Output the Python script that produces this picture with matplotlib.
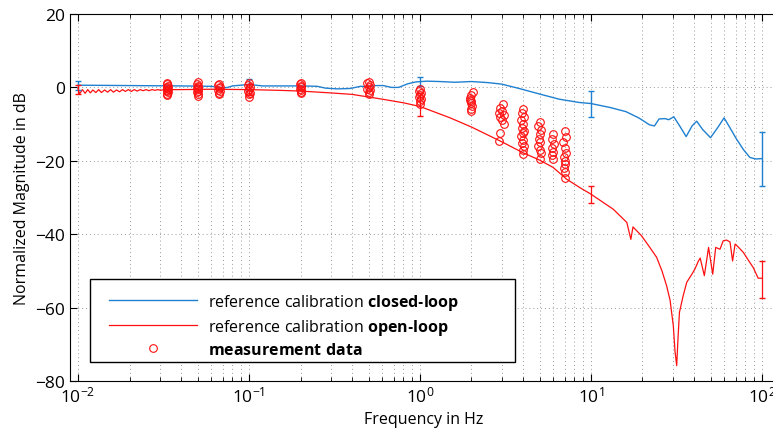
import numpy as np
import matplotlib
matplotlib.use("Agg")
import matplotlib.pyplot as plt
from matplotlib.patches import Rectangle

# reference calibration, closed loop
cl_freq = [0.01, 0.02, 0.04, 0.06, 0.07, 0.075, 0.08, 0.1, 0.12, 0.2, 0.25, 0.28, 0.33,
           0.39, 0.45, 0.5, 0.55, 0.61, 0.68, 0.75, 0.85, 0.95, 1.1, 1.3, 1.6, 2.0, 2.5,
           3.0, 3.8, 5.0, 6.5, 8.5, 10, 13, 16, 19, 22, 23.5, 25, 27, 28.5, 30.5, 33, 36,
           39, 41.5, 45, 50, 55, 60, 64, 71, 78, 85, 92, 100]
cl_db = [0.6, 0.5, 0.4, 0.3, -0.1, 0.0, 0.4, 0.8, 0.4, 0.4, 0.3, -0.2, -0.4,
         -0.3, 0.3, 0.2, 0.5, 0.5, 0.0, 0.0, 1.0, 1.5, 1.7, 1.6, 1.4, 1.6, 1.3,
         0.9, -0.3, -1.8, -3.2, -4.1, -4.4, -5.5, -6.6, -8.3, -10.2, -10.5, -8.6, -8.5, -8.8, -8.0, -10.5, -13.4,
         -10.5, -9.2, -11.5, -13.7, -11.0, -8.3, -10.5, -14.1, -17.0, -19.1, -19.5, -19.4]

# reference calibration, open loop
ol_freq = [0.01, 0.0102, 0.0106, 0.011, 0.0114, 0.0118, 0.0122, 0.0127, 0.0132, 0.0137,
           0.0143, 0.0149, 0.0155, 0.0161, 0.0168, 0.0175, 0.0182, 0.0189, 0.0197, 0.0205,
           0.0213, 0.0222, 0.0231, 0.024, 0.025, 0.026, 0.0271, 0.0282, 0.0293, 0.0305,
           0.0317, 0.04, 0.06, 0.1, 0.15, 0.2, 0.3, 0.4, 0.6, 0.8, 1.0, 1.5, 2.0, 2.5,
           3.0, 4.0, 5.0, 6.0, 7.2, 8.6, 10, 13.5, 16.2, 17.1, 17.6, 19.8, 22, 24.2, 26,
           27.7, 29, 30.3, 31.0, 31.7, 32.3, 32.9, 34.5, 36.3, 38.9, 40.5, 42.5, 43.5,
           46, 48.7, 51.5, 53.6, 56.8, 59.3, 62, 65, 67.3, 69.6, 72, 77.9, 83, 88.9, 95, 100]
ol_db = [-0.3, -1.8, -0.6, -1.6, -0.6, -1.5, -0.7, -1.4, -0.6, -1.4, -0.7, -1.3, -0.6,
         -1.3, -0.7, -1.2, -0.6, -1.1, -0.6, -1.1, -0.6, -1.0, -0.6, -0.9, -0.6, -0.9,
         -0.6, -0.8, -0.6, -0.8, -0.6, -0.6, -0.5, -0.6, -0.8, -1.0, -1.5, -1.9, -3.2,
         -4.2, -5.2, -8.3, -10.8, -13.0, -14.8, -17.8, -19.8, -21.8, -25.0, -27.3, -29.1,
         -33.2, -36.8, -41.4, -38.0, -40.5, -43.5, -46.3, -50.0, -54.1, -58.0, -65.0,
         -72.0, -75.8, -68.0, -61.3, -57.0, -53.1, -50.9, -49.5, -47.3, -46.5, -51.3,
         -43.6, -50.9, -43.6, -44.1, -41.8, -41.6, -42.1, -47.3, -42.7, -43.3, -45.0,
         -47.0, -49.1, -52.0, -52.0]

# error bars at the decades
err_freq = [0.01, 0.1, 1, 10, 100]
cl_err_db = [0.6, 0.8, 1.5, -4.6, -19.6]
cl_err = [1.2, 1.5, 1.2, 3.6, 7.4]
ol_err_db = [-0.6, -0.6, -4.6, -29.1, -52.4]
ol_err = [1.3, 1.5, 3.2, 2.3, 5.1]

# measurement data
meas_freq = ([0.0333, 0.0330, 0.0336, 0.0333, 0.0330, 0.0336, 0.0333, 0.0330, 0.0336, 0.0333, 0.0333] +
             [0.050, 0.0495, 0.0505, 0.050, 0.0495, 0.0505, 0.050, 0.0495, 0.0505, 0.050] +
             [0.0667, 0.066, 0.0673, 0.0667, 0.066, 0.0673, 0.0667, 0.0667] +
             [0.100, 0.099, 0.101, 0.100, 0.099, 0.101, 0.100, 0.100] +
             [0.200, 0.198, 0.202, 0.200, 0.198, 0.202, 0.200, 0.200] +
             [0.50, 0.49, 0.51, 0.50, 0.49, 0.51, 0.50, 0.50] +
             [1.00, 0.99, 1.01, 1.00, 0.99, 1.01, 1.00, 1.00] +
             [2.05, 2.0, 1.97, 1.95, 2.0, 1.98, 2.02, 1.98, 2.0] +
             [3.05, 2.95, 3.0, 2.9, 3.1, 2.95, 3.0, 3.08, 2.95, 2.9] +
             [4.0, 3.95, 4.05, 3.9, 4.0, 3.95, 4.05, 4.0, 3.9, 4.0, 3.95, 4.05, 4.0, 4.0] +
             [5.0, 4.9, 5.1, 5.0, 4.95, 5.05, 4.9, 5.0, 5.1, 5.0] +
             [6.0, 5.9, 6.05, 5.95, 6.0, 5.9, 6.0] +
             [7.0, 7.1, 6.9, 7.0, 7.15, 6.95, 7.0, 7.05, 6.95, 7.0, 7.0])
meas_db = ([1.3, 0.9, 0.5, 0.2, -0.1, -0.4, -0.7, -1.0, -1.3, -1.7, -2.1] +
           [1.5, 1.0, 0.5, 0.2, -0.2, -0.5, -0.9, -1.3, -1.8, -2.4] +
           [1.0, 0.6, 0.2, -0.2, -0.6, -1.0, -1.4, -1.8] +
           [1.2, 0.6, 0.1, -0.4, -0.9, -1.4, -1.9, -2.6] +
           [1.3, 0.9, 0.4, 0.0, -0.4, -0.8, -1.2, -1.6] +
           [1.6, 1.1, 0.6, 0.2, -0.3, -0.8, -1.3, -1.8] +
           [-0.3, -0.9, -1.5, -2.0, -2.6, -3.2, -3.8, -4.5] +
           [-1.2, -2.0, -2.8, -3.3, -3.8, -4.3, -5.0, -5.8, -6.4] +
           [-4.6, -5.5, -6.4, -7.0, -7.5, -8.0, -8.9, -10.0, -12.3, -14.6] +
           [-6.0, -7.0, -8.0, -9.0, -10.0, -11.0, -11.8, -12.5, -13.3, -14.2, -15.2, -16.0, -17.0, -18.2] +
           [-9.5, -10.5, -11.5, -12.8, -14.0, -15.0, -16.0, -17.0, -18.0, -19.6] +
           [-12.8, -14.0, -15.5, -16.5, -17.5, -18.5, -19.6] +
           [-12.0, -13.5, -15.0, -16.5, -18.0, -19.0, -20.0, -21.0, -22.0, -23.0, -24.6])

plt.rcParams['font.family'] = ['Open Sans', 'DejaVu Sans']
plt.rcParams['mathtext.fontset'] = 'custom'
plt.rcParams['mathtext.rm'] = 'Open Sans'
plt.rcParams['mathtext.bf'] = 'Open Sans:bold'
plt.rcParams['axes.unicode_minus'] = True
blue = "#1f80d0"
red = "#ff1010"

fig = plt.figure(figsize=(7.73, 4.39), dpi=100)
ax = fig.add_axes([70 / 773, 57 / 439, 708 / 773, 367 / 439])

ax.semilogx(cl_freq, cl_db, color=blue, linewidth=1.0, label="reference calibration $\\mathbf{closed\u2010loop}$")
ax.semilogx(ol_freq, ol_db, color=red, linewidth=0.9, label="reference calibration $\\mathbf{open\u2010loop}$")
ax.errorbar(err_freq, cl_err_db, yerr=cl_err, fmt="none", ecolor=blue, elinewidth=1.0, capsize=2)
ax.errorbar(err_freq, ol_err_db, yerr=ol_err, fmt="none", ecolor=red, elinewidth=0.9, capsize=2)
ax.plot(meas_freq, meas_db, linestyle="none", marker="o", markersize=5.5, markerfacecolor="none",
        markeredgecolor=red, markeredgewidth=0.8, label="$\\mathbf{measurement\\ data}$")

ax.set_xlim(10 ** -2.047, 10 ** ((778 - 420) / 171))
ax.set_ylim(-80, 20)
ax.set_yticks([-80, -60, -40, -20, 0, 20])
ax.grid(True, which="major", linestyle=(0, (1, 3)), color="#999999", linewidth=0.7)
ax.grid(True, which="minor", axis="x", linestyle=(0, (1, 3)), color="#999999", linewidth=0.7)
ax.tick_params(which="both", direction="in", top=True, right=False, labelsize=12.5)
ax.tick_params(which="major", length=5)
ax.tick_params(which="minor", length=3)
ax.set_xlabel("Frequency in Hz", fontsize=11.5)
ax.set_ylabel("Normalized Magnitude in dB", fontsize=11.5)

box = Rectangle((20 / 708, 19 / 367), 425 / 708, 83 / 367, transform=ax.transAxes,
                facecolor="white", edgecolor="black", linewidth=1.0, zorder=4)
ax.add_patch(box)
leg = ax.legend(loc="lower left", bbox_to_anchor=(25 / 708, 9 / 367), frameon=False,
                fontsize=11.5, handlelength=5.5, handletextpad=0.7, labelspacing=0.3)
leg.set_zorder(5)

fig.savefig("out.png", dpi=100)
